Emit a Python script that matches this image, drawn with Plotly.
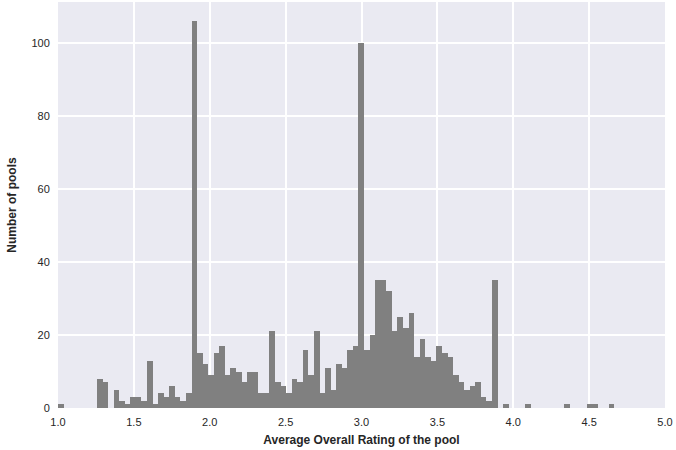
import numpy as np
import plotly.graph_objects as go

# histogram of average overall rating per pool (100 bins between min and max rating)
rating_min = 1.0
rating_max = 4.6667
n_bins = 100
pool_counts = [
    1, 0, 0, 0, 0, 0, 0, 8, 7, 0,
    5, 2, 1, 3, 3, 2, 13, 1, 4, 3,
    6, 3, 2, 4, 106, 15, 12, 9, 15, 17,
    9, 11, 10, 7, 10, 10, 4, 4, 21, 7,
    6, 4, 8, 7, 16, 9, 21, 4, 11, 5,
    12, 11, 16, 17, 100, 16, 20, 35, 35, 32,
    21, 25, 22, 26, 14, 19, 14, 13, 17, 15,
    14, 9, 7, 5, 6, 7, 3, 2, 35, 0,
    1, 0, 0, 0, 1, 0, 0, 0, 0, 0,
    0, 1, 0, 0, 0, 1, 1, 0, 0, 1,
]
x_ticks = [1.0, 1.5, 2.0, 2.5, 3.0, 3.5, 4.0, 4.5, 5.0]
y_ticks = [0, 20, 40, 60, 80, 100]

edges = np.linspace(rating_min, rating_max, n_bins + 1)
centers = (edges[:-1] + edges[1:]) / 2
bin_w = edges[1] - edges[0]

fig = go.Figure(go.Bar(
    x=centers,
    y=pool_counts,
    width=bin_w,
    marker=dict(color="#808080", line=dict(width=0)),
    hoverinfo="x+y",
))

font = "Arial, Liberation Sans, sans-serif"
txt = "#262626"
fig.update_layout(
    width=676,
    height=450,
    margin=dict(l=58, r=11, t=2, b=42),
    paper_bgcolor="white",
    plot_bgcolor="#EAEAF2",
    bargap=0,
    showlegend=False,
    font=dict(family=font, size=11, color=txt),
)
fig.update_xaxes(
    range=[1.0, 5.0],
    tickvals=x_ticks,
    ticktext=[f"{v:.1f}" for v in x_ticks],
    showgrid=True,
    gridcolor="white",
    gridwidth=1.5,
    zeroline=False,
    showline=False,
    ticks="outside",
    ticklen=4,
    tickcolor="rgba(0,0,0,0)",
    automargin=False,
    title=dict(text="<b>Average Overall Rating of the pool</b>", font=dict(size=12, family=font, color=txt), standoff=8),
)
fig.update_yaxes(
    range=[0, 111.3],
    tickvals=y_ticks,
    showgrid=True,
    gridcolor="white",
    gridwidth=1.5,
    zeroline=False,
    showline=False,
    ticks="outside",
    ticklen=5,
    tickcolor="rgba(0,0,0,0)",
    automargin=False,
    title=dict(text="<b>Number of pools</b>", font=dict(size=12, family=font, color=txt), standoff=12),
)

# drop the default page margin so the figure sits at the window's corner
fig.write_html(
    "out.html",
    config={"displayModeBar": False},
    post_script="document.body.style.margin='0';",
)
